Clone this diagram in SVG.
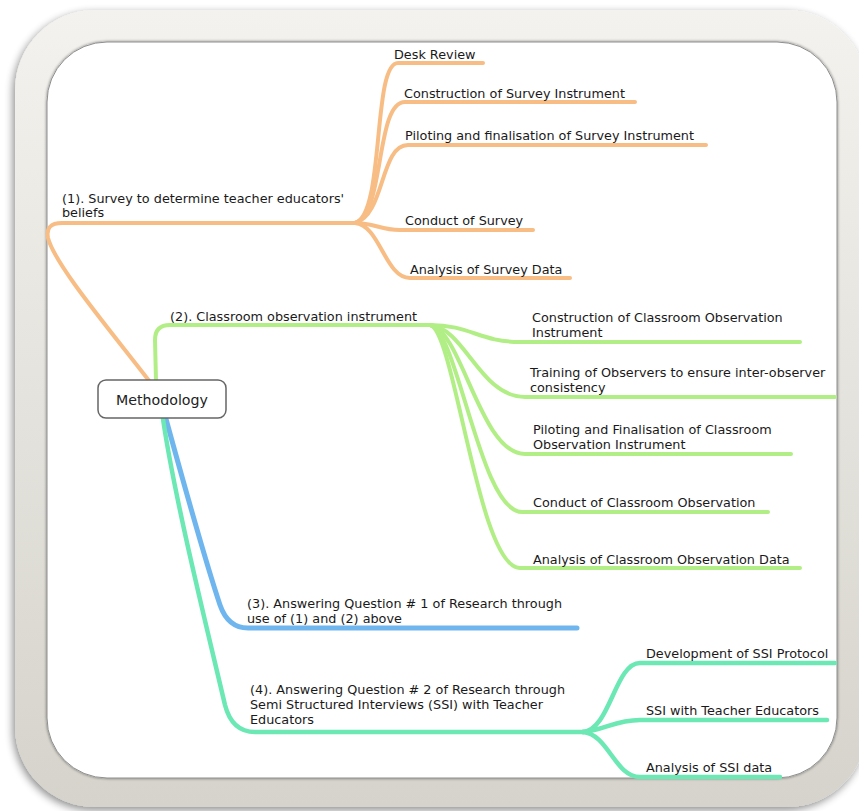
<svg xmlns="http://www.w3.org/2000/svg" width="859" height="811" viewBox="0 0 859 811">
<defs>
<linearGradient id="frameG" x1="0" y1="0" x2="0" y2="1">
<stop offset="0" stop-color="#f3f2ee"/>
<stop offset="1" stop-color="#d5d3cb"/>
</linearGradient>
<filter id="sh" x="-5%" y="-5%" width="110%" height="110%">
<feGaussianBlur in="SourceAlpha" stdDeviation="4"/>
<feOffset dx="-2" dy="3"/>
<feComponentTransfer><feFuncA type="linear" slope="0.45"/></feComponentTransfer>
<feMerge><feMergeNode/><feMergeNode in="SourceGraphic"/></feMerge>
</filter>
<filter id="inner" x="-5%" y="-5%" width="110%" height="110%">
<feGaussianBlur in="SourceAlpha" stdDeviation="1.5"/>
<feOffset dx="0" dy="0"/>
<feComponentTransfer><feFuncA type="linear" slope="0.5"/></feComponentTransfer>
<feMerge><feMergeNode/><feMergeNode in="SourceGraphic"/></feMerge>
</filter>
</defs>
<style>
text{font-family:"DejaVu Sans","Liberation Sans",sans-serif;font-size:12.8px;fill:#1a1a1a}
text.root{font-size:14.2px;fill:#222}
.c{fill:none;stroke-linecap:round;stroke-linejoin:round}
.o{stroke:#f7bd84;stroke-width:4}
.g{stroke:#b2ee86;stroke-width:4}
.b{stroke:#6fb6ef;stroke-width:5}
.t{stroke:#6be8b4;stroke-width:4.5}
</style>
<rect width="859" height="811" fill="#ffffff"/>
<g id="frame">
<rect x="15" y="10" width="852" height="797" rx="80" fill="url(#frameG)" filter="url(#sh)"/>
<rect x="47" y="42" width="790" height="736" rx="60" fill="#ffffff" stroke="#8e8e8e" stroke-width="1" filter="url(#inner)"/>
</g>
<g id="connectors">
<path class="c o" stroke-width="5.5" d="M150,382 C 110,330 55,265 48,238 Q 45,223 62,223 L355,223"/>
<path class="c o" d="M355,223 C 385,215 372,63 398,63 L483,63"/>
<path class="c o" d="M355,223 C 385,215 375,102 405,102 L635,102"/>
<path class="c o" d="M355,223 C 385,215 380,145 408,145 L706,145"/>
<path class="c o" d="M355,223 C 375,223 380,230 400,230 L533,230"/>
<path class="c o" d="M355,223 C 380,225 385,278 410,278 L570,278"/>
<path class="c g" d="M156,381 L155,340 Q 155,325 170,325 L430,325"/>
<path class="c g" d="M430,325 C 470,325 480,342 520,342 L800,342"/>
<path class="c g" d="M430,325 C 465,328 480,397 525,397 L835,397"/>
<path class="c g" d="M430,325 C 462,330 480,454 525,454 L791,454"/>
<path class="c g" d="M430,325 C 458,330 480,512 522,512 L768,512"/>
<path class="c g" d="M430,325 C 455,330 478,568 520,568 L800,568"/>
<path class="c b" d="M166,419 C 180,470 205,560 220,605 Q 228,628 248,628 L577,628"/>
<path class="c t" d="M163,419 C 175,500 205,620 225,705 Q 232,732 255,732 L583,732"/>
<path class="c t" d="M583,732 C 610,730 615,663 640,663 L835,663"/>
<path class="c t" d="M583,732 C 605,730 615,720 640,720 L827,720"/>
<path class="c t" d="M583,732 C 608,734 615,777 640,777 L780,777"/>
</g>
<g id="methodology">
<rect x="98" y="380" width="128" height="38" rx="8" fill="#ffffff" stroke="#666" stroke-width="1.5"/>
<text class="root" x="162" y="404.5" text-anchor="middle">Methodology</text>
</g>
<g id="n1"><text x="62" y="203">(1). Survey to determine teacher educators'</text><text x="62" y="217">beliefs</text></g>
<g id="n1a"><text x="394" y="59">Desk Review</text></g>
<g id="n1b"><text x="404" y="98">Construction of Survey Instrument</text></g>
<g id="n1c"><text x="405" y="140">Piloting and finalisation of Survey Instrument</text></g>
<g id="n1d"><text x="405" y="225">Conduct of Survey</text></g>
<g id="n1e"><text x="410" y="274">Analysis of Survey Data</text></g>
<g id="n2"><text x="170" y="321">(2). Classroom observation instrument</text></g>
<g id="n2a"><text x="532" y="322">Construction of Classroom Observation</text><text x="532" y="337">Instrument</text></g>
<g id="n2b"><text x="530" y="377">Training of Observers to ensure inter-observer</text><text x="530" y="392">consistency</text></g>
<g id="n2c"><text x="533" y="434">Piloting and Finalisation of Classroom</text><text x="533" y="449">Observation Instrument</text></g>
<g id="n2d"><text x="533" y="507">Conduct of Classroom Observation</text></g>
<g id="n2e"><text x="533" y="564">Analysis of Classroom Observation Data</text></g>
<g id="n3"><text x="247" y="608">(3). Answering Question # 1 of Research through</text><text x="247" y="623">use of (1) and (2) above</text></g>
<g id="n4"><text x="250" y="694">(4). Answering Question # 2 of Research through</text><text x="250" y="709">Semi Structured Interviews (SSI) with Teacher</text><text x="250" y="724">Educators</text></g>
<g id="n4a"><text x="646" y="658">Development of SSI Protocol</text></g>
<g id="n4b"><text x="646" y="715">SSI with Teacher Educators</text></g>
<g id="n4c"><text x="646" y="772">Analysis of SSI data</text></g>
</svg>
